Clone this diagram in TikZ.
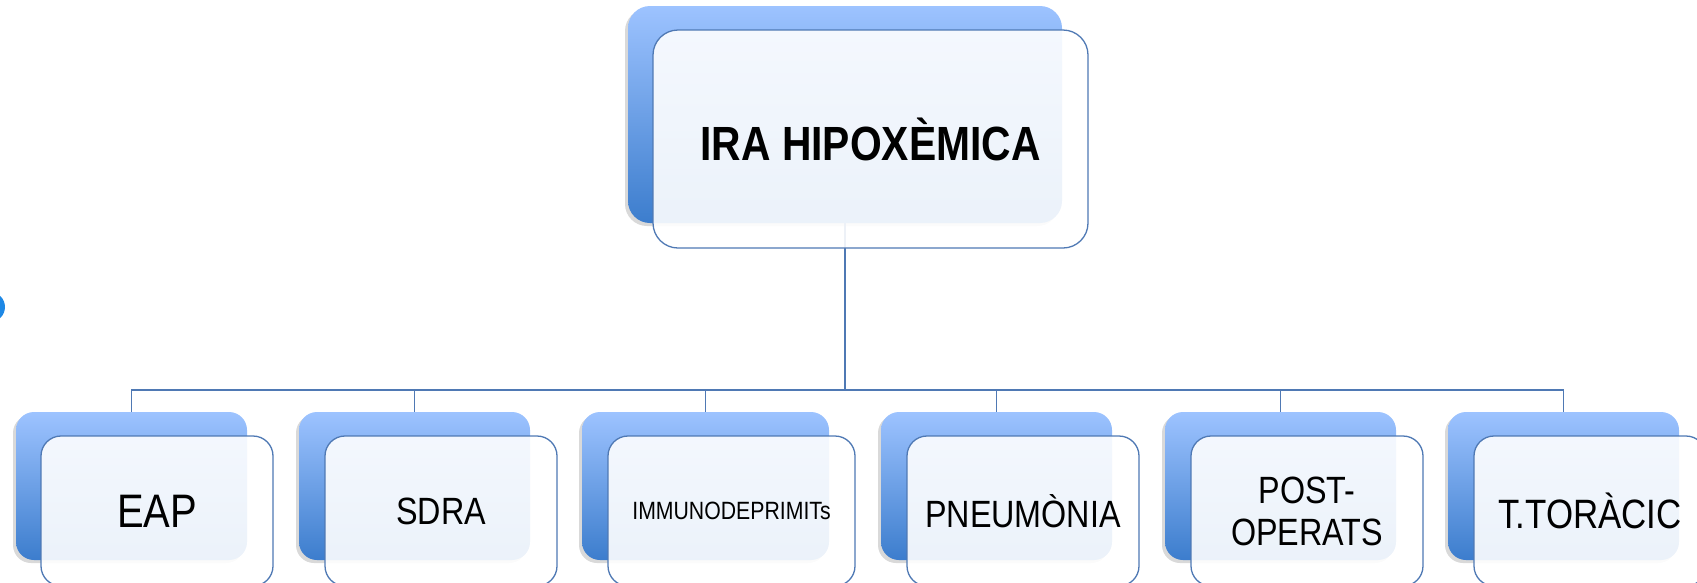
\documentclass[tikz,border=0pt]{standalone}
\usepackage{fontspec}
\newfontfamily\nar[FakeStretch=0.85]{Liberation Sans}
\usetikzlibrary{shadows}
\definecolor{bgtop}{RGB}{157,195,255}
\definecolor{bgbot}{RGB}{60,125,205}
\definecolor{edge}{RGB}{79,121,180}
\definecolor{blob}{RGB}{30,136,229}
\tikzset{
  backbox/.style={anchor=north west, inner sep=0pt, outer sep=0pt,
    rounded corners=18pt, top color=bgtop, bottom color=bgbot,
    drop shadow={shadow xshift=-3pt, shadow yshift=-3pt, opacity=0.25, fill=black!60}},
  frontbox/.style={anchor=north west, inner sep=0pt, outer sep=0pt,
    draw=edge, line width=1.3pt, fill=white, fill opacity=0.9, text opacity=1,
    rounded corners=20pt, align=center},
  fs/.style={font={\nar\fontsize{#1}{42}\selectfont}},
  conn/.style={draw=edge, line width=1.5pt},
}
\begin{document}
\begin{tikzpicture}[x=1pt,y=-1pt]
\useasboundingbox (0,0) rectangle (1697,582);
\clip (0,0) rectangle (1697,582);
\fill[blob] (-10,307) circle (15);
% back boxes
\node[backbox, minimum width=434pt, minimum height=217pt, rounded corners=22pt] (topb) at (628,6) {};
\node[backbox, minimum width=231pt, minimum height=148pt] (b1) at (16,412) {};
\node[backbox, minimum width=231pt, minimum height=148pt] (b2) at (299,412) {};
\node[backbox, minimum width=247pt, minimum height=148pt] (b3) at (582,412) {};
\node[backbox, minimum width=231pt, minimum height=148pt] (b4) at (881,412) {};
\node[backbox, minimum width=231pt, minimum height=148pt] (b5) at (1165,412) {};
\node[backbox, minimum width=231pt, minimum height=148pt] (b6) at (1448,412) {};
% connectors
\coordinate (bus) at (845,390);
\draw[conn] (topb.south) -- (bus);
\draw[conn] (bus) -| (b1.north);
\draw[conn] (bus) -| (b2.north);
\draw[conn] (bus) -| (b3.north);
\draw[conn] (bus) -| (b4.north);
\draw[conn] (bus) -| (b5.north);
\draw[conn] (bus) -| (b6.north);
% front boxes
\node[frontbox, minimum width=435pt, minimum height=218pt, rounded corners=25pt,
      font={\nar\bfseries\fontsize{48}{54}\selectfont}] (top) at (653,30) {IRA HIPOXÈMICA};
\node[frontbox, fs=47, minimum width=232pt, minimum height=150pt] (f1) at (41,436) {EAP};
\node[frontbox, fs=38, minimum width=232pt, minimum height=150pt] (f2) at (325,436) {SDRA};
\node[frontbox, fs=25, minimum width=247pt, minimum height=150pt] (f3) at (608,436) {IMMUNODEPRIMITs};
\node[frontbox, fs=38, minimum width=232pt, minimum height=150pt] (f4) at (907,436) {PNEUMÒNIA};
\node[frontbox, fs=38, minimum width=232pt, minimum height=150pt] (f5) at (1191,436) {POST-\\OPERATS};
\node[frontbox, fs=41, minimum width=232pt, minimum height=150pt] (f6) at (1474,436) {T.TORÀCIC};
\end{tikzpicture}
\end{document}
